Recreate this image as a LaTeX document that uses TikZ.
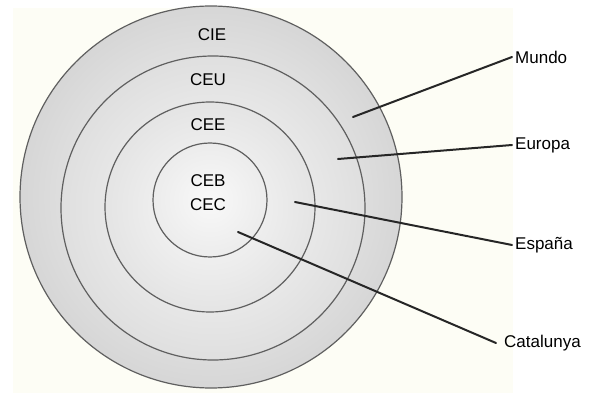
\documentclass[tikz,border=0pt]{standalone}
\usepackage{fontspec}
\setmainfont{Liberation Sans}
\usetikzlibrary{calc}
\definecolor{cream}{RGB}{253,253,245}
\definecolor{ringline}{RGB}{95,95,95}
\tikzset{
  ring/.style={draw=ringline,line width=1.2pt,shading=radial,inner color=gray!5,outer color=gray!32},
  ringlabel/.style={font=\fontsize{17}{20}\selectfont,inner sep=0pt},
  scopelabel/.style={font=\fontsize{17}{20}\selectfont,anchor=west,inner sep=0pt},
  pointer/.style={line width=2pt,draw=black!85,line cap=round}
}
\begin{document}
\begin{tikzpicture}[x=1pt,y=-1pt]
      \useasboundingbox (0,0) rectangle (598,393);
      \fill[cream] (13,8) rectangle (513,393);
      % rings, outer to inner
      \draw[ring] (211,197) circle[radius=191];
      \draw[ring,outer color=gray!25] (213,208) circle[radius=152];
      \draw[ring,outer color=gray!21] (210,207) circle[radius=105];
      \draw[ring,outer color=gray!15] (210,200) circle[radius=57];
      % ring names
      \node[ringlabel] (cie) at (212,35) {CIE};
      \node[ringlabel] (ceu) at (208,80) {CEU};
      \node[ringlabel] (cee) at (208,125) {CEE};
      \node[ringlabel] (ceb) at (208,181) {CEB};
      \node[ringlabel] (cec) at (208,205) {CEC};
      % scope names
      \node[scopelabel] (mundo) at (515,57) {Mundo};
      \node[scopelabel] (europa) at (515,145) {Europa};
      \node[scopelabel] (espana) at (515,245) {España};
      \node[scopelabel] (catalunya) at (504,343) {Catalunya};
      % pointer ends
      \coordinate (pmundo) at (353,117);
      \coordinate (peuropa) at (338,159);
      \coordinate (pespana) at (295,202);
      \coordinate (pcatalunya) at (238,232);
      \draw[pointer] (pmundo) -- ($(mundo.west)+(-3,0)$);
      \draw[pointer] (peuropa) -- ($(europa.west)+(-3,0)$);
      \draw[pointer] (pespana) -- ($(espana.west)+(-3,0)$);
      \draw[pointer] (pcatalunya) -- ($(catalunya.west)+(-8,0)$);
    \end{tikzpicture}
\end{document}
